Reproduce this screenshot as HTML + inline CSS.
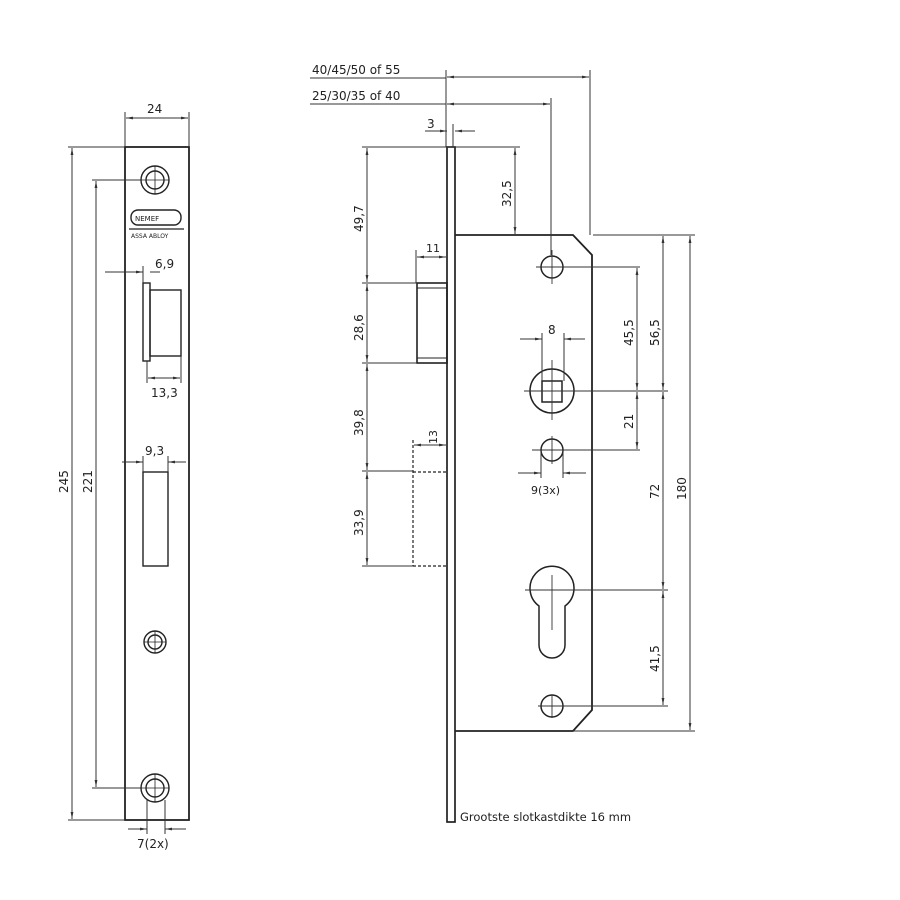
<!DOCTYPE html>
<html><head><meta charset="utf-8"><style>
html,body{margin:0;padding:0;background:#fff;}
svg{display:block;}
text{font-family:"DejaVu Sans","Liberation Sans",sans-serif;fill:#222;font-size:12px;}
</style></head><body>
<svg width="900" height="900" viewBox="0 0 900 900" xmlns="http://www.w3.org/2000/svg">
<defs>
<marker id="a" viewBox="0 0 10 10" refX="10" refY="5" markerWidth="7" markerHeight="7" orient="auto-start-reverse"><path d="M0,3 L10,5 L0,7z" fill="#333"/></marker>
</defs>
<g stroke="#222" fill="none">
<!-- LEFT FACEPLATE -->
<rect x="125" y="147" width="64" height="673" stroke-width="1.8"/>
<g stroke-width="1.4">
<circle cx="155" cy="180" r="14"/><circle cx="155" cy="180" r="9"/>
<circle cx="155" cy="642" r="11"/><circle cx="155" cy="642" r="7"/>
<circle cx="155" cy="788" r="14"/><circle cx="155" cy="788" r="9"/>
</g>
<g stroke-width="0.8">
<path d="M141,180H169M155,166V194M144,642H166M155,631V653M141,788H169M155,774V802"/>
</g>
<rect x="131" y="210" width="50" height="15" rx="7" stroke-width="1.4"/>
<path d="M129,229H184" stroke-width="1.2"/>
<rect x="143" y="283" width="7" height="78" stroke-width="1.4"/>
<rect x="150" y="290" width="31" height="66" stroke-width="1.4"/>
<rect x="143" y="472" width="25" height="94" stroke-width="1.4"/>
<g stroke-width="1" stroke="#333">
<path d="M125,112V147M189,112V147"/>
<path d="M126,118H188" marker-start="url(#a)" marker-end="url(#a)"/>
<path d="M68,147H125M68,820H125"/>
<path d="M72,148V819" marker-start="url(#a)" marker-end="url(#a)"/>
<path d="M92,180H141M92,788H141"/>
<path d="M96,181V787" marker-start="url(#a)" marker-end="url(#a)"/>
<path d="M105,272H143" marker-end="url(#a)"/><path d="M150,272H160"/><path d="M143,266V283"/>
<path d="M147,361V383M181,356V383"/>
<path d="M148,378H180" marker-start="url(#a)" marker-end="url(#a)"/>
<path d="M122,462H143" marker-end="url(#a)"/><path d="M168,462H186" marker-start="url(#a)"/><path d="M143,456V472M168,456V472"/>
<path d="M147,800V834M165,800V834"/>
<path d="M128,829H147" marker-end="url(#a)"/><path d="M165,829H186" marker-start="url(#a)"/>
</g>
<!-- RIGHT -->
<rect x="447" y="147" width="8" height="675" stroke-width="1.7"/>
<path d="M455,235H573L592,255V710L573,731H455" stroke-width="1.8"/>
<rect x="417" y="283" width="30" height="80" stroke-width="1.6"/>
<path d="M417,288H447M417,358H447" stroke-width="1"/>
<path d="M413,440V566M413,472H447M413,566H447" stroke-width="1.2" stroke-dasharray="3,2"/>
<g stroke-width="1.5">
<circle cx="552" cy="267" r="11"/>
<circle cx="552" cy="391" r="22"/>
<rect x="542" y="381" width="20" height="21"/>
<circle cx="552" cy="450" r="11"/>
<path d="M539,606 A22,22 0 1 1 565,606 L565,645 A13,13 0 0 1 539,645 Z"/>
<circle cx="552" cy="706" r="11"/>
</g>
<g stroke-width="0.9" stroke="#333">
<path d="M536,267H640M552,250V284"/>
<path d="M524,391H668M552,360V420"/>
<path d="M532,450H640M552,436V464"/>
<path d="M525,590H668M552,575V630"/>
<path d="M538,706H668M552,695V718"/>
<path d="M593,235H695M573,731H695"/>
</g>
<g stroke-width="1" stroke="#333">
<path d="M310,78H446M310,104H446"/>
<path d="M446,70V147M590,70V235M551,98V255"/>
<path d="M447,77H589" marker-start="url(#a)" marker-end="url(#a)"/>
<path d="M447,104H550" marker-start="url(#a)" marker-end="url(#a)"/>
<path d="M453,124V147"/>
<path d="M425,131H447" marker-end="url(#a)"/><path d="M455,131H475" marker-start="url(#a)"/>
<path d="M362,147H520"/>
<path d="M515,148V234" marker-start="url(#a)" marker-end="url(#a)"/>
<path d="M362,283H417M362,363H417M362,471H413M362,566H413"/>
<path d="M367,148V282" marker-start="url(#a)" marker-end="url(#a)"/>
<path d="M367,284V362" marker-start="url(#a)" marker-end="url(#a)"/>
<path d="M367,364V470" marker-start="url(#a)" marker-end="url(#a)"/>
<path d="M367,472V565" marker-start="url(#a)" marker-end="url(#a)"/>
<path d="M416,250V283"/>
<path d="M417,257H446" marker-start="url(#a)" marker-end="url(#a)"/>
<path d="M414,445H446" marker-start="url(#a)" marker-end="url(#a)"/>
<path d="M542,333V381M564,333V381"/>
<path d="M520,339H542" marker-end="url(#a)"/><path d="M564,339H585" marker-start="url(#a)"/>
<path d="M541,450V478M563,450V478"/>
<path d="M518,473H541" marker-end="url(#a)"/><path d="M563,473H586" marker-start="url(#a)"/>
<path d="M637,268V390" marker-start="url(#a)" marker-end="url(#a)"/>
<path d="M637,392V449" marker-start="url(#a)" marker-end="url(#a)"/>
<path d="M663,236V390" marker-start="url(#a)" marker-end="url(#a)"/>
<path d="M663,392V589" marker-start="url(#a)" marker-end="url(#a)"/>
<path d="M663,591V705" marker-start="url(#a)" marker-end="url(#a)"/>
<path d="M690,236V730" marker-start="url(#a)" marker-end="url(#a)"/>
</g>
</g>
<text x="147" y="113">24</text>
<text x="155" y="268">6,9</text>
<text x="151" y="397">13,3</text>
<text x="145" y="455">9,3</text>
<text x="137" y="848">7(2x)</text>
<text transform="translate(68,493) rotate(-90)">245</text>
<text transform="translate(92,493) rotate(-90)">221</text>
<text x="135" y="221" style="font-size:7px">NEMEF</text>
<text x="131" y="238" style="font-size:6px">ASSA ABLOY</text>
<text x="312" y="74">40/45/50 of 55</text>
<text x="312" y="100">25/30/35 of 40</text>
<text x="427" y="128">3</text>
<text x="426" y="252" style="font-size:11px">11</text>
<text x="548" y="334">8</text>
<text x="531" y="494" style="font-size:11px">9(3x)</text>
<text x="460" y="821" style="font-size:11.5px">Grootste slotkastdikte 16 mm</text>
<text transform="translate(511,207) rotate(-90)">32,5</text>
<text transform="translate(363,232) rotate(-90)">49,7</text>
<text transform="translate(363,341) rotate(-90)">28,6</text>
<text transform="translate(363,436) rotate(-90)">39,8</text>
<text transform="translate(363,536) rotate(-90)">33,9</text>
<text transform="translate(437,444) rotate(-90)" style="font-size:11px">13</text>
<text transform="translate(633,346) rotate(-90)">45,5</text>
<text transform="translate(659,346) rotate(-90)">56,5</text>
<text transform="translate(633,429) rotate(-90)">21</text>
<text transform="translate(659,499) rotate(-90)">72</text>
<text transform="translate(686,500) rotate(-90)">180</text>
<text transform="translate(659,672) rotate(-90)">41,5</text>
</svg>
</body></html>
